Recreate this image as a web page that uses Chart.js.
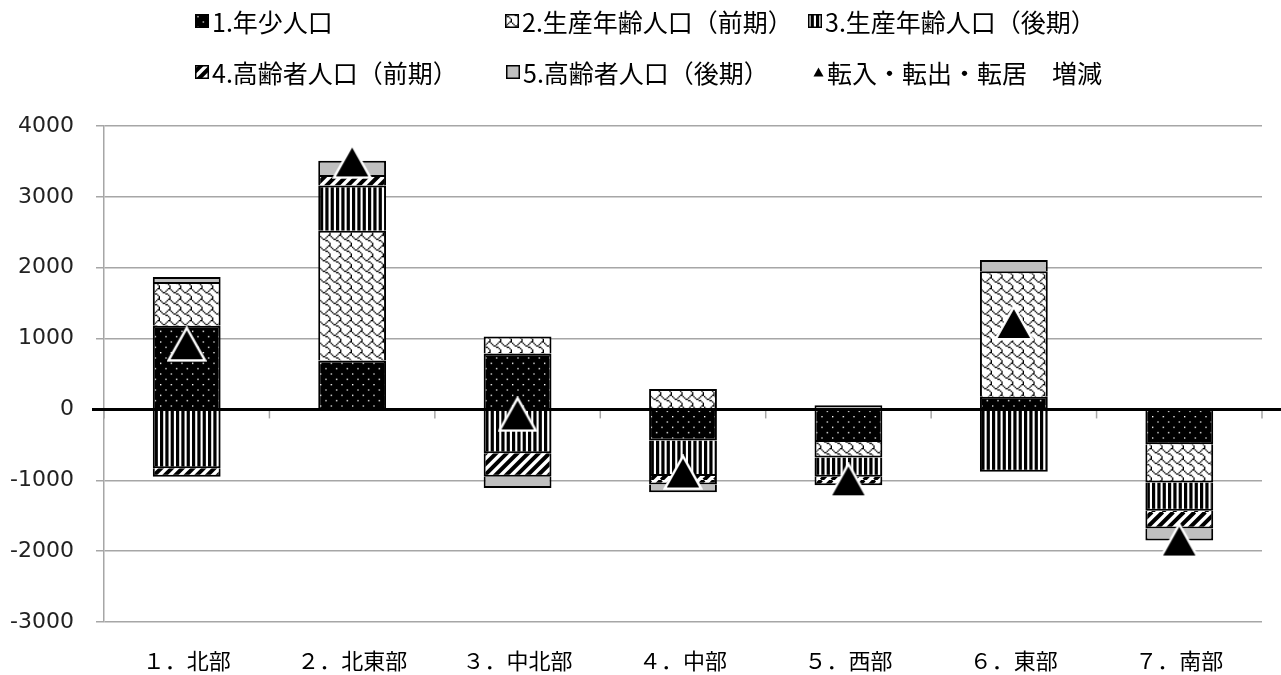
<!DOCTYPE html>
<html lang="ja">
<head>
<meta charset="utf-8">
<title>地域別 人口増減の内訳</title>
<script src="https://cdn.jsdelivr.net/npm/chart.js@4.4.1/dist/chart.umd.min.js"></script>
<style>
  html, body { margin: 0; padding: 0; background: #fff; }
  canvas { display: block; }
</style>
</head>
<body>
<canvas id="chart" width="1281" height="675"></canvas>
<script>
// 地域（カテゴリ）
const categories = ['１．北部', '２．北東部', '３．中北部', '４．中部', '５．西部', '６．東部', '７．南部'];

// 年齢区分別の増減（人）
const youth      = [1180,  690,  790, -440, -460,  180, -490];  // 1.年少人口
const workEarly  = [ 620, 1830,  240,  290, -220, 1770, -540];  // 2.生産年齢人口（前期）
const workLate   = [-830,  640, -620, -500, -270, -880, -400];  // 3.生産年齢人口（後期）
const elderEarly = [-120,  150, -330, -120, -120,    0, -250];  // 4.高齢者人口（前期）
const elderLate  = [  70,  200, -160, -110,   60,  160, -170];  // 5.高齢者人口（後期）

// 転入・転出・転居による増減（合計）
const netMigration = [920, 3500, -70, -890, -1000, 1220, -1850];

// 凡例の文字列
const seriesNames = [
  '1.年少人口',
  '2.生産年齢人口（前期）',
  '3.生産年齢人口（後期）',
  '4.高齢者人口（前期）',
  '5.高齢者人口（後期）',
  '転入・転出・転居　増減'
];

// 縦軸の目盛
const yTickValues = [-3000, -2000, -1000, 0, 1000, 2000, 3000, 4000];

// ---- 塗りつぶしパターン ----
const TILE = 32;          // 8px のハッチを 4/3 倍で 3 回繰り返すタイル
function makeTile(draw) {
  const c = document.createElement('canvas');
  c.width = c.height = TILE;
  const g = c.getContext('2d');
  draw(g);
  return c;
}
function bitmapTile(rows, ink, paper) {
  const small = document.createElement('canvas');
  small.width = small.height = 24;
  const s = small.getContext('2d');
  s.fillStyle = paper; s.fillRect(0, 0, 24, 24);
  s.fillStyle = ink;
  for (let ty = 0; ty < 3; ty++)
    for (let tx = 0; tx < 3; tx++)
      for (let r = 0; r < 8; r++)
        for (let b = 0; b < 8; b++)
          if (rows[r] & (0x80 >> b)) s.fillRect(tx * 8 + b, ty * 8 + r, 1, 1);
  return makeTile(g => {
    g.imageSmoothingEnabled = true;
    g.drawImage(small, 0, 0, TILE, TILE);
  });
}
const ctx0 = document.getElementById('chart').getContext('2d');
const pat = t => ctx0.createPattern(t, 'repeat');

const dotsFill = pat(bitmapTile([0x80, 0, 0, 0, 0x08, 0, 0, 0], '#fff', '#000'));
const shingleFill = pat(bitmapTile([0x03, 0x84, 0x48, 0x30, 0x0c, 0x02, 0x01, 0x01], '#000', '#fff'));
const vStripeFill = pat(makeTile(g => {
  g.fillStyle = '#fff'; g.fillRect(0, 0, TILE, TILE);
  g.fillStyle = '#000';
  const p = TILE / 6;
  for (let k = 0; k < 6; k++) g.fillRect(k * p, 0, p * 0.6, TILE);
}));
const diagFill = pat(makeTile(g => {
  g.fillStyle = '#fff'; g.fillRect(0, 0, TILE, TILE);
  g.strokeStyle = '#000'; g.lineWidth = 4;
  const p = TILE / 3;
  for (let k = -1; k <= 7; k++) {
    g.beginPath();
    g.moveTo(k * p, 0);
    g.lineTo(k * p - TILE, TILE);
    g.stroke();
  }
}));
const grayFill = '#bfbfbf';
const fills = [dotsFill, shingleFill, vStripeFill, diagFill, grayFill];

// 白縁付きの三角マーカー
function triangleMarker(w, h, edge) {
  const c = document.createElement('canvas');
  c.width = w; c.height = h;
  const g = c.getContext('2d');
  const m = edge / 2 + 0.5;
  g.beginPath();
  g.moveTo(w / 2, m);
  g.lineTo(w - m, h - m);
  g.lineTo(m, h - m);
  g.closePath();
  g.fillStyle = '#000';
  g.fill();
  if (edge > 0) {
    g.lineJoin = 'miter';
    g.strokeStyle = '#fff';
    g.lineWidth = edge;
    g.stroke();
  }
  return c;
}
const bigTriangle = triangleMarker(40, 36, 2.5);
const smallTriangle = triangleMarker(11, 10, 0);

// ---- 横軸（0 の位置）と区切り目盛 ----
const zeroAxis = {
  id: 'zeroAxis',
  beforeDatasetDraw(chart, args) {
    if (args.meta.type !== 'line') return;
    const { ctx, chartArea: a, scales: { x, y } } = chart;
    const y0 = y.getPixelForValue(0);
    ctx.save();
    ctx.strokeStyle = '#a6a6a6';
    ctx.lineWidth = 1.5;
    for (let i = 0; i <= categories.length; i++) {
      const px = x.getPixelForValue(i - 0.5);
      ctx.beginPath();
      ctx.moveTo(px, y0);
      ctx.lineTo(px, y0 + 9);
      ctx.stroke();
    }
    ctx.strokeStyle = '#000';
    ctx.lineWidth = 3;
    ctx.beginPath();
    ctx.moveTo(a.left - 12, y0);
    ctx.lineTo(chart.width, y0);
    ctx.stroke();
    ctx.restore();
  }
};

// ---- 凡例（2 段） ----
const legendRows = {
  id: 'legendRows',
  afterDraw(chart) {
    const { ctx } = chart;
    const slots = [
      { x: 195, y: 21 }, { x: 505, y: 21 }, { x: 808, y: 21 },
      { x: 195, y: 72 }, { x: 506, y: 72 }, { x: 813, y: 72 }
    ];
    ctx.save();
    ctx.font = '25px "Noto Sans CJK JP"';
    ctx.textBaseline = 'middle';
    ctx.fillStyle = '#000';
    slots.forEach((s, i) => {
      if (i < 5) {
        ctx.fillStyle = fills[i];
        ctx.fillRect(s.x, s.y - 7, 14, 14);
        ctx.strokeStyle = '#000';
        ctx.lineWidth = 1.5;
        ctx.strokeRect(s.x + 0.75, s.y - 6.25, 12.5, 12.5);
        ctx.fillStyle = '#000';
        ctx.fillText(seriesNames[i], s.x + 17, s.y + 1);
      } else {
        ctx.drawImage(smallTriangle, s.x, s.y - 5);
        ctx.fillText(seriesNames[i], s.x + 14, s.y + 1);
      }
    });
    ctx.restore();
  }
};

const datasets = [youth, workEarly, workLate, elderEarly, elderLate].map((d, i) => ({
  type: 'bar',
  label: seriesNames[i],
  data: d,
  backgroundColor: fills[i],
  borderColor: '#000',
  borderWidth: 2,
  stack: 'age',
  order: 1,
  categoryPercentage: 1,
  barPercentage: 0.41
}));
datasets.push({
  type: 'line',
  label: seriesNames[5],
  data: netMigration,
  stack: 'net',
  order: 0,
  showLine: false,
  pointStyle: bigTriangle,
  pointRadius: 18,
  pointHoverRadius: 18,
  clip: false
});

new Chart(ctx0, {
  data: { labels: categories, datasets },
  plugins: [zeroAxis, legendRows],
  options: {
    responsive: false,
    animation: false,
    layout: { padding: { top: 126, right: 9, bottom: 0, left: 0 } },
    plugins: { legend: { display: false }, tooltip: { enabled: false } },
    scales: {
      x: {
        stacked: true,
        grid: { display: false, drawTicks: false },
        border: { display: false },
        ticks: {
          font: { family: '"Noto Sans CJK JP"', size: 22 },
          color: '#000',
          padding: 25,
          maxRotation: 0,
          autoSkip: false
        },
        afterFit(s) { s.height = 53; }
      },
      y: {
        stacked: true,
        min: yTickValues[0],
        max: yTickValues[yTickValues.length - 1],
        afterBuildTicks(s) { s.ticks = yTickValues.map(v => ({ value: v })); },
        ticks: {
          font: { family: '"DejaVu Sans"', size: 22 },
          color: '#222',
          padding: 22,
          callback: v => String(v)
        },
        grid: { color: '#a6a6a6', lineWidth: 1.5, tickLength: 8 },
        border: { display: true, color: '#a6a6a6', width: 1.5 },
        afterFit(s) { s.width = 104; }
      }
    }
  }
});
</script>
</body>
</html>
